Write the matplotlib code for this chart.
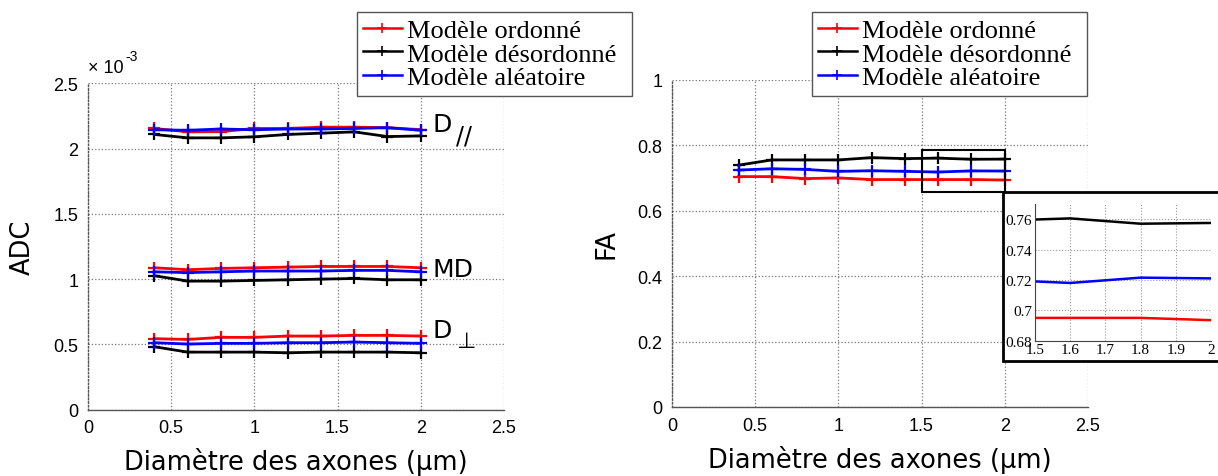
import matplotlib
matplotlib.use("Agg")
import matplotlib.pyplot as plt
from matplotlib.patches import Rectangle
from matplotlib.path import Path
from matplotlib.ticker import FuncFormatter

# Axon diameters (µm)
diametres = [0.4, 0.6, 0.8, 1.0, 1.2, 1.4, 1.6, 1.8, 2.0]

# Diffusion coefficients (x 10^-3 mm^2/s)
dpar_ordonne = [2.154, 2.128, 2.130, 2.154, 2.154, 2.164, 2.164, 2.160, 2.145]
dpar_desordonne = [2.108, 2.082, 2.082, 2.090, 2.108, 2.118, 2.128, 2.092, 2.097]
dpar_aleatoire = [2.144, 2.140, 2.150, 2.144, 2.150, 2.150, 2.154, 2.160, 2.140]

md_ordonne = [1.087, 1.072, 1.082, 1.087, 1.092, 1.097, 1.097, 1.097, 1.087]
md_desordonne = [1.026, 0.985, 0.985, 0.990, 0.995, 1.000, 1.005, 0.995, 0.995]
md_aleatoire = [1.056, 1.050, 1.056, 1.062, 1.062, 1.062, 1.067, 1.067, 1.056]

dperp_ordonne = [0.544, 0.538, 0.554, 0.554, 0.564, 0.564, 0.569, 0.569, 0.564]
dperp_desordonne = [0.482, 0.441, 0.441, 0.441, 0.436, 0.441, 0.441, 0.441, 0.436]
dperp_aleatoire = [0.513, 0.503, 0.508, 0.508, 0.513, 0.513, 0.518, 0.513, 0.508]

# Fractional anisotropy
fa_ordonne = [0.704, 0.704, 0.698, 0.700, 0.695, 0.695, 0.695, 0.695, 0.6935]
fa_desordonne = [0.739, 0.755, 0.755, 0.755, 0.762, 0.759, 0.7605, 0.757, 0.7575]
fa_aleatoire = [0.724, 0.728, 0.726, 0.720, 0.722, 0.720, 0.718, 0.7215, 0.721]

labels = ["Modèle ordonné", "Modèle désordonné", "Modèle aléatoire"]
colors = ["#ff0000", "#000000", "#0000ff"]

x_ticks = [0, 0.5, 1, 1.5, 2, 2.5]
adc_ticks = [0, 0.5, 1, 1.5, 2, 2.5]
fa_ticks = [0, 0.2, 0.4, 0.6, 0.8, 1]
inset_xticks = [1.5, 1.6, 1.7, 1.8, 1.9, 2.0]
inset_yticks = [0.68, 0.70, 0.72, 0.74, 0.76]

SANS = "DejaVu Sans"
TICK = "Liberation Sans"
SERIF = "Liberation Serif"
gfmt = FuncFormatter(lambda v, p: f"{v:g}")

fig = plt.figure(figsize=(12.18, 4.77), dpi=100)

line_kw = dict(lw=2.0, marker="+", ms=9, mew=1.6)


def right_padded_box(x0, y0, width, height, mutation_size):
    """Square legend frame with extra room on the right side."""
    dx = 0.35 * mutation_size
    return Path([(x0, y0), (x0 + width + dx, y0),
                 (x0 + width + dx, y0 + height), (x0, y0 + height),
                 (x0, y0)], closed=True)


def style_axes(ax, yticks, ylim):
    ax.set_xlim(0, 2.5)
    ax.set_ylim(*ylim)
    ax.set_xticks(x_ticks)
    ax.set_yticks(yticks)
    ax.xaxis.set_major_formatter(gfmt)
    ax.yaxis.set_major_formatter(gfmt)
    ax.grid(True, ls=":", color="#777777", lw=0.9)
    ax.tick_params(length=0, labelsize=13, pad=7)
    for lab in ax.get_xticklabels() + ax.get_yticklabels():
        lab.set_family(TICK)
    ax.spines["top"].set_visible(False)
    ax.spines["right"].set_visible(False)
    ax.spines["left"].set_color("#555555")
    ax.spines["left"].set_linestyle(":")
    ax.spines["left"].set_linewidth(1.0)
    ax.spines["bottom"].set_color("#555555")
    ax.spines["bottom"].set_linewidth(1.0)
    ax.set_xlabel("Diamètre des axones (µm)", fontsize=18.5, family=SANS)
    ax.xaxis.set_label_coords(0.5, -0.115)
    ax.xaxis.label.set_va("top")


def add_legend(ax, handles, anchor):
    leg = ax.legend(handles, labels, loc="upper right",
                    bbox_to_anchor=anchor, bbox_transform=fig.transFigure,
                    prop={"family": SERIF, "size": 19}, frameon=True,
                    fancybox=False, labelspacing=0.0, borderpad=0.25,
                    handlelength=1.45, handletextpad=0.2, borderaxespad=0)
    frame = leg.get_frame()
    frame.set_boxstyle(right_padded_box)
    frame.set_edgecolor("#555555")
    frame.set_linewidth(1.0)
    frame.set_alpha(1)
    for h in leg.legend_handles:
        h.set_linewidth(1.8)
        h.set_markersize(7)
        h.set_markeredgewidth(1.2)
    return leg


# ---- ADC panel ----
ax1 = fig.add_axes([0.0722, 0.139, 0.3415, 0.6843])
groups = [
    (dpar_ordonne, dpar_desordonne, dpar_aleatoire),
    (md_ordonne, md_desordonne, md_aleatoire),
    (dperp_ordonne, dperp_desordonne, dperp_aleatoire),
]
handles = None
for g in groups:
    hs = []
    for vals, c in zip(g, colors):
        (h,) = ax1.plot(diametres, vals, color=c, **line_kw)
        hs.append(h)
    handles = handles or hs
style_axes(ax1, adc_ticks, (0, 2.5))
ax1.set_ylabel("ADC", fontsize=18.5, family=SANS)
ax1.yaxis.set_label_coords(-0.125, 0.5)
# scale factor of the ADC axis
ax1.text(0.0, 1.035, "× 10", transform=ax1.transAxes,
         fontsize=13, family=TICK, ha="left", va="baseline")
ax1.text(0.089, 1.071, "-3", transform=ax1.transAxes,
         fontsize=10, family=TICK, ha="left", va="baseline")
# curve group names
ax1.text(2.073, 2.134, "D", fontsize=18, family=SANS, va="baseline")
ax1.text(2.215, 2.045, "//", fontsize=17, family=SANS, va="baseline")
ax1.text(2.073, 1.024, "MD", fontsize=18, family=SANS, va="baseline")
ax1.text(2.073, 0.557, "D", fontsize=18, family=SANS, va="baseline")
ax1.text(2.215, 0.48, "\u22a5", fontsize=16, family=SANS, va="baseline")
add_legend(ax1, handles, (0.5113, 0.9727))

# ---- FA panel ----
ax2 = fig.add_axes([0.5517, 0.1447, 0.3415, 0.686])
fa_series = (fa_ordonne, fa_desordonne, fa_aleatoire)
hs2 = []
for vals, c in zip(fa_series, colors):
    (h,) = ax2.plot(diametres, vals, color=c, **line_kw)
    hs2.append(h)
style_axes(ax2, fa_ticks, (0, 1))
ax2.set_ylabel("FA", fontsize=18.5, family=SANS)
ax2.yaxis.set_label_coords(-0.125, 0.5)
ax2.add_patch(Rectangle((1.5, 0.657), 0.5, 0.127, fill=False,
                        edgecolor="black", lw=1.5, zorder=5))
add_legend(ax2, hs2, (0.8849, 0.9727))

# Zoom box with close-up of the FA curves
fig.patches.append(Rectangle((0.8235, 0.241), 0.25, 0.354, transform=fig.transFigure,
                             facecolor="white", edgecolor="black", lw=2.0,
                             zorder=3, figure=fig))
axi = fig.add_axes([0.8498, 0.2837, 0.1445, 0.2866], zorder=4)
for vals, c in zip(fa_series, colors):
    axi.plot(diametres, vals, color=c, lw=1.8)
axi.set_xlim(1.5, 2.0)
axi.set_ylim(0.68, 0.77)
axi.set_xticks(inset_xticks)
axi.set_yticks(inset_yticks)
axi.xaxis.set_major_formatter(gfmt)
axi.yaxis.set_major_formatter(gfmt)
axi.grid(True, ls=":", color="#999999", lw=0.8)
axi.tick_params(length=0, labelsize=11, pad=2)
for lab in axi.get_xticklabels() + axi.get_yticklabels():
    lab.set_family(SERIF)
axi.spines["top"].set_visible(False)
axi.spines["right"].set_visible(False)
axi.spines["left"].set_color("#444444")
axi.spines["bottom"].set_color("#444444")

fig.savefig("out.png", dpi=100)
